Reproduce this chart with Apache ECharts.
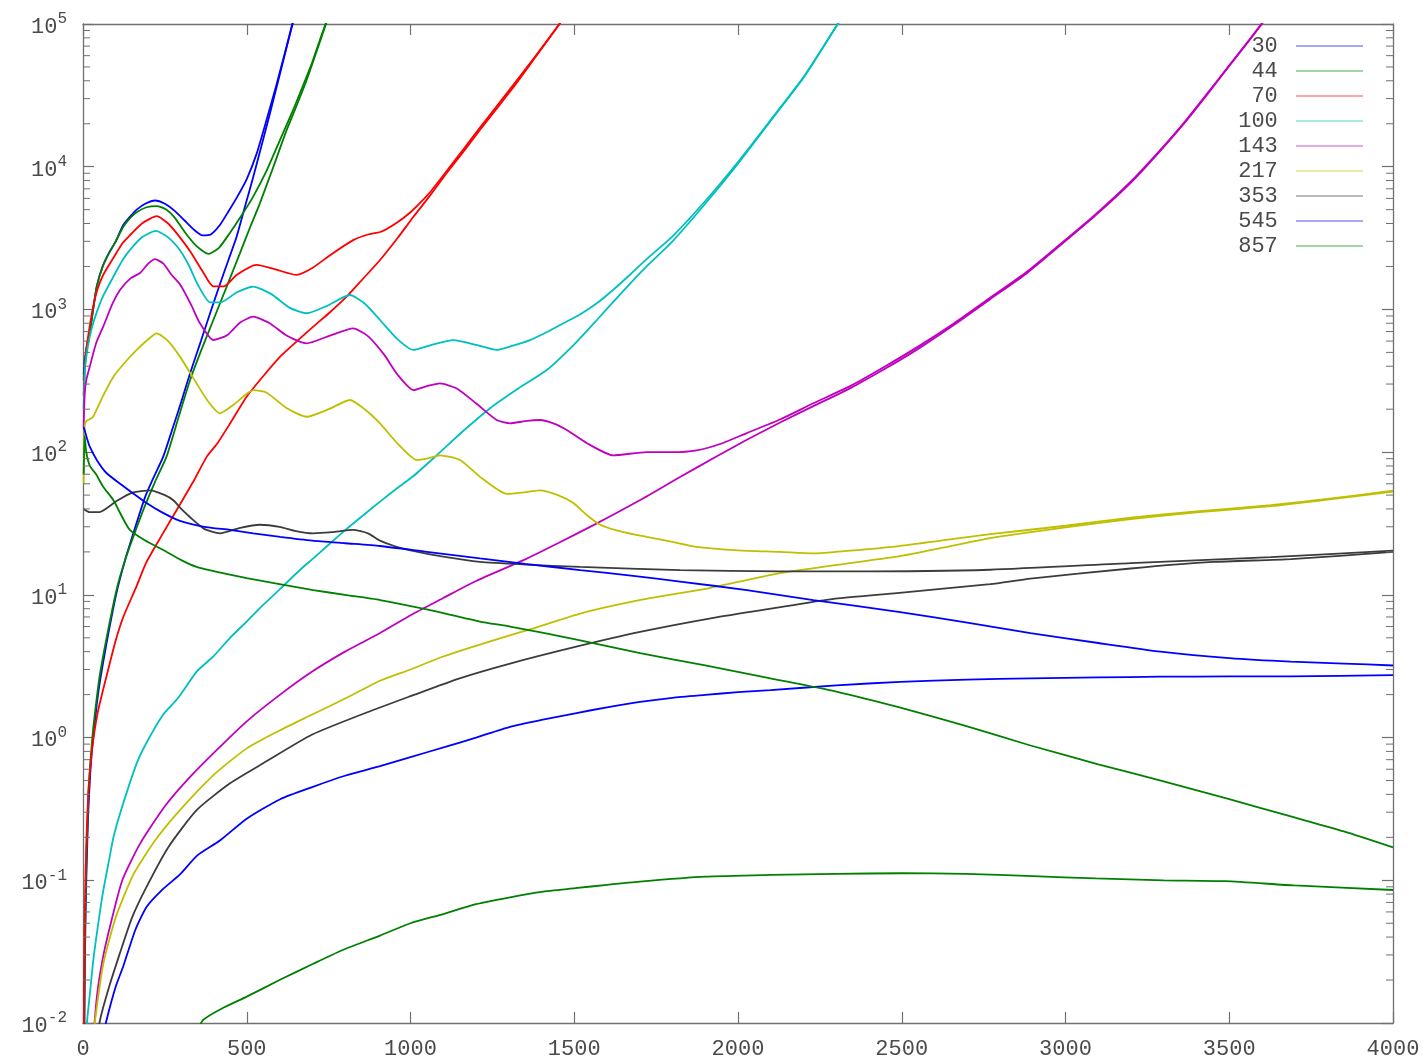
<!DOCTYPE html>
<html>
<head>
<meta charset="utf-8">
<script src="https://cdn.jsdelivr.net/npm/echarts@6/dist/echarts.min.js"></script>
<style>
  html, body { margin: 0; padding: 0; background: #fff; }
  #chart { width: 1426px; height: 1062px; }
</style>
</head>
<body>
<div id="chart"></div>
<script>
// Power spectra per frequency channel: multipole ell vs D_ell (log scale).
// Each channel has two curves: sky + noise (with acoustic peaks) and the noise-like one.

const channels = ['30', '44', '70', '100', '143', '217', '353', '545', '857'];
const channelColors = ['#0000ff', '#008000', '#ff0000', '#00bfbf', '#bf00bf', '#bfbf00', '#3c3c3c', '#0000ff', '#008000'];

const xTicks = [0, 500, 1000, 1500, 2000, 2500, 3000, 3500, 4000];
const yRange = [1e-2, 1e5];

const total30 = [[2,350],[6,450],[12,560],[21,700],[31,1000],[42,1450],[60,2000],[80,2500],[100,3000],[123,3900],[145,4500],[164,5000],[190,5500],[220,5800],[250,5500],[280,4900],[310,4200],[340,3600],[365,3300],[390,3350],[418,3900],[445,4900],[470,6100],[500,8200],[530,12300],[561,21500],[590,37000],[615,61000],[635,92000],[648,120000]];
const noise30 = [[3,0.004],[6,0.03],[10,0.1],[16,0.3],[23,0.6],[31,1.0],[42,1.7],[52,2.5],[72,4.6],[103,10.5],[130,18],[160,30],[189,48],[215,66],[245,93],[275,150],[300,225],[327,357],[360,600],[398,1100],[430,1800],[469,3230],[495,5300],[520,8500],[545,14000],[571,23700],[597,40800],[622,69000],[648,118000]];

const total44 = [[2,320],[6,420],[12,560],[21,700],[31,1000],[42,1450],[60,2000],[80,2500],[100,3000],[123,3800],[145,4400],[164,4800],[194,5200],[225,5300],[255,5000],[280,4400],[310,3500],[345,2800],[383,2450],[415,2700],[449,3450],[480,4400],[520,6200],[560,9300],[602,15500],[640,24500],[663,33000],[700,54000],[724,78000],[748,112000]];
const noise44 = [[3,0.005],[6,0.04],[10,0.13],[16,0.38],[23,0.7],[31,1.15],[42,1.9],[52,2.8],[72,5],[103,11],[130,18],[160,28],[189,42],[220,62],[255,93],[290,170],[327,320],[360,510],[398,843],[440,1470],[479,2470],[510,3750],[540,5540],[580,9800],[622,18100],[650,26000],[683,40500],[715,66000],[748,110000]];

const total70 = [[2,250],[6,400],[12,560],[20,750],[31,1046],[45,1400],[62,1750],[93,2300],[120,2900],[143,3300],[180,4000],[225,4500],[260,4000],[296,3200],[330,2500],[365,1850],[398,1450],[430,1450],[470,1750],[530,2050],[590,1900],[652,1745],[700,1950],[760,2450],[825,3060],[870,3350],[910,3500],[958,4050],[1000,4800],[1030,5600],[1059,6600],[1110,9300],[1161,13200],[1212,18800],[1263,26500],[1320,39000],[1380,59000],[1455,100500],[1470,115000]];
const noise70 = [[2,0.006],[5,0.05],[10,0.18],[16,0.4],[23,0.65],[31,0.95],[45,1.5],[60,2.1],[72,2.7],[100,4.8],[123,7],[160,11],[194,17],[240,26],[296,43],[340,64],[378,93],[410,115],[450,160],[500,245],[550,340],[602,467],[650,590],[703,757],[755,960],[805,1228],[855,1640],[907,2220],[960,3150],[1009,4460],[1060,6300],[1110,9000],[1161,12700],[1212,18100],[1260,25000],[1310,35000],[1380,58000],[1455,100000],[1470,112000]];

const total100 = [[2,200],[6,380],[12,500],[21,650],[31,800],[45,1000],[62,1250],[93,1700],[120,2200],[143,2600],[180,3200],[222,3550],[260,3200],[296,2600],[325,2000],[350,1500],[388,1120],[420,1120],[470,1320],[520,1443],[575,1280],[630,1030],[683,940],[745,1060],[815,1262],[860,1100],[907,843],[960,620],[1009,520],[1060,560],[1131,610],[1200,565],[1263,520],[1310,555],[1365,610],[1420,700],[1467,800],[1520,930],[1569,1104],[1620,1380],[1670,1750],[1721,2250],[1800,3250],[1900,5750],[2000,10800],[2100,21300],[2200,42500],[2305,100500],[2320,112000]];
const noise100 = [[6,0.004],[12,0.01],[21,0.016],[31,0.027],[42,0.042],[60,0.08],[80,0.14],[93,0.2],[120,0.33],[164,0.66],[194,0.92],[245,1.45],[291,1.9],[347,2.9],[398,3.7],[449,5.0],[500,6.5],[550,8.5],[602,11],[663,15],[703,18],[755,23],[805,29],[855,36],[907,45],[960,56],[1009,68],[1080,95],[1160,140],[1243,203],[1330,280],[1416,376],[1500,570],[1569,843],[1650,1350],[1721,2000],[1800,3000],[1900,5500],[2000,10500],[2100,21000],[2200,42000],[2305,100000],[2320,112000]];

const total143 = [[2,150],[5,250],[10,320],[21,400],[40,580],[62,760],[90,1100],[113,1370],[145,1650],[174,1800],[200,2100],[220,2250],[245,2100],[270,1750],[296,1500],[330,1080],[357,800],[398,610],[440,660],[480,810],[520,889],[570,800],[620,660],[683,578],[750,650],[825,736],[870,650],[920,480],[960,350],[1009,272],[1050,290],[1090,303],[1140,280],[1200,220],[1263,168],[1304,159],[1350,165],[1395,168],[1440,158],[1477,143],[1540,115],[1619,95],[1721,100],[1800,100],[1874,103],[1950,115],[2027,136],[2130,170],[2230,220],[2342,290],[2450,400],[2556,560],[2660,800],[2770,1206],[2880,1820],[2985,2880],[3090,4600],[3199,7850],[3280,12400],[3359,20000],[3430,32000],[3499,51000],[3560,77000],[3605,105000]];
const noise143 = [[25,0.005],[42,0.015],[60,0.028],[82,0.047],[120,0.1],[174,0.18],[250,0.33],[327,0.53],[418,0.86],[500,1.3],[602,2.0],[700,2.9],[800,4.0],[907,5.4],[1000,7.2],[1100,9.5],[1200,12.5],[1345,17.5],[1450,23],[1569,31.7],[1700,46],[1823,67],[1930,92],[2027,122],[2130,162],[2230,210],[2342,280],[2450,385],[2556,540],[2660,780],[2770,1180],[2880,1780],[2985,2820],[3090,4520],[3199,7700],[3280,12200],[3359,19700],[3430,31500],[3499,50500],[3560,76000],[3605,104000]];

const total217 = [[2,60],[5,150],[10,165],[20,170],[31,177],[62,250],[93,338],[130,430],[164,520],[200,620],[225,680],[260,600],[296,467],[337,330],[380,230],[418,187],[460,215],[520,272],[560,262],[620,205],[683,177],[750,200],[815,232],[860,200],[907,159],[960,115],[1019,88],[1050,90],[1090,95],[1151,88],[1220,65],[1294,51],[1340,52],[1395,54],[1450,50],[1497,44],[1540,36],[1579,31],[1650,27.5],[1721,25.5],[1800,23.5],[1874,21.7],[2000,20.5],[2128,20],[2230,19.5],[2342,20.4],[2485,21.9],[2630,24.2],[2770,26.6],[3000,30.5],[3199,34.8],[3400,38.5],[3627,42.5],[3800,47],[4000,53.7]];
const noise217 = [[30,0.007],[37,0.0105],[62,0.026],[100,0.055],[154,0.11],[220,0.19],[296,0.31],[400,0.55],[500,0.84],[600,1.12],[700,1.45],[805,1.9],[907,2.5],[1000,3.0],[1100,3.7],[1253,4.8],[1383,5.9],[1518,7.4],[1680,9.0],[1823,10.3],[1900,11.0],[2128,14.2],[2342,16.7],[2485,18.5],[2630,21.5],[2770,25],[3000,29.7],[3199,34],[3400,37.8],[3627,41.8],[3800,46.5],[4000,53]];

const total353 = [[2,40],[20,38],[50,38],[100,45],[150,52],[205,54],[250,50],[276,46],[300,40],[327,35],[370,29],[418,27],[480,29.5],[540,31],[600,30],[650,28],[703,27],[760,27.5],[825,28.5],[870,27],[907,24],[950,22],[1000,20.5],[1100,18.5],[1212,17],[1350,16.3],[1518,15.7],[1823,14.9],[2128,14.6],[2342,14.6],[2770,15.0],[3199,16.7],[3627,18.4],[4000,20.4]];
const noise353 = [[40,0.007],[52,0.0105],[80,0.018],[113,0.031],[150,0.055],[194,0.09],[260,0.17],[347,0.31],[450,0.48],[550,0.66],[700,1.05],[886,1.56],[1000,1.95],[1150,2.6],[1304,3.3],[1500,4.3],[1701,5.5],[1925,6.9],[2100,8.0],[2297,9.4],[2485,10.3],[2770,11.9],[2893,13.0],[3199,15.3],[3450,17.0],[3688,17.8],[4000,20.0]];

const desc545 = [[2,150],[6,140],[12,125],[20,110],[42,88],[70,72],[113,60],[150,52],[194,44],[240,38],[296,33],[370,30],[449,28.5],[520,27],[602,25.5],[700,24],[800,23],[907,22],[1050,20],[1212,18],[1350,16.5],[1518,14.9],[1680,13.6],[1823,12.4],[2027,10.8],[2230,9.2],[2490,7.6],[2700,6.4],[2893,5.4],[3100,4.6],[3290,4.0],[3500,3.6],[3688,3.4],[3850,3.3],[4000,3.2]];
const rise545 = [[55,0.007],[72,0.0105],[100,0.018],[123,0.025],[160,0.045],[194,0.065],[240,0.085],[296,0.11],[350,0.15],[418,0.19],[500,0.27],[602,0.37],[700,0.45],[800,0.54],[907,0.63],[1000,0.73],[1106,0.86],[1200,1.0],[1304,1.19],[1400,1.33],[1503,1.48],[1600,1.63],[1701,1.78],[1800,1.9],[1900,1.99],[2000,2.08],[2099,2.15],[2300,2.32],[2496,2.46],[2700,2.55],[2893,2.6],[3100,2.64],[3291,2.67],[3500,2.68],[3688,2.68],[4000,2.74]];

const desc857 = [[2,70],[5,130],[10,100],[21,80],[40,70],[60,58],[93,46],[120,35],[143,28.5],[190,24],[245,20.6],[300,17.5],[347,15.7],[420,14.3],[500,13.1],[600,11.9],[703,10.8],[800,10],[907,9.2],[1050,7.9],[1212,6.5],[1304,6.0],[1500,4.9],[1701,3.9],[1900,3.2],[2099,2.6],[2300,2.1],[2496,1.62],[2700,1.2],[2893,0.88],[3100,0.65],[3291,0.5],[3500,0.37],[3688,0.28],[3850,0.22],[4000,0.17]];
const rise857 = [[340,0.008],[367,0.0105],[420,0.0125],[500,0.0153],[600,0.02],[703,0.026],[800,0.033],[907,0.041],[1000,0.05],[1100,0.058],[1200,0.068],[1304,0.076],[1400,0.083],[1503,0.088],[1600,0.093],[1700,0.098],[1900,0.106],[2100,0.109],[2297,0.111],[2500,0.112],[2694,0.111],[2900,0.107],[3092,0.103],[3300,0.1],[3489,0.0985],[3700,0.092],[4000,0.0855]];

const curvesByChannel = [
  [total30, noise30], [total44, noise44], [total70, noise70],
  [total100, noise100], [total143, noise143], [total217, noise217],
  [total353, noise353], [desc545, rise545], [desc857, rise857]
];

// minor tick values of the log axis: 2..9 within every decade
const minorTickValues = [];
for (let e = -2; e < 5; e++) {
  for (let m = 2; m <= 9; m++) minorTickValues.push(m * Math.pow(10, e));
}

const FONT = 'Liberation Mono';
const TXT = '#4a4a4a';
const AXIS = '#707070';

const series = [];
curvesByChannel.forEach((pair, i) => {
  pair.forEach((pts) => {
    series.push({
      type: 'line',
      name: channels[i],
      data: pts,
      xAxisIndex: 0,
      yAxisIndex: 0,
      showSymbol: false,
      symbol: 'none',
      smooth: 0.2,
      lineStyle: { width: 1.8, color: channelColors[i] },
      itemStyle: { color: channelColors[i] },
      emphasis: { disabled: true },
      silent: true
    });
  });
});

// minor ticks on both vertical edges of the plot frame
series.push({
  type: 'custom',
  name: 'minor-ticks',
  xAxisIndex: 0,
  yAxisIndex: 0,
  silent: true,
  clip: false,
  z: 20,
  data: minorTickValues.map(v => [xTicks[1], v]),
  renderItem: (params, api) => {
    const cs = params.coordSys;
    const y = api.coord([xTicks[1], api.value(1)])[1];
    const xl = cs.x;
    const xr = cs.x + cs.width;
    return {
      type: 'group',
      children: [
        { type: 'line', z2: 50, shape: { x1: xl, y1: y, x2: xl + 7, y2: y }, style: { stroke: AXIS, lineWidth: 1 } },
        { type: 'line', z2: 50, shape: { x1: xr, y1: y, x2: xr - 7, y2: y }, style: { stroke: AXIS, lineWidth: 1 } }
      ]
    };
  }
});

const axisLineStyle = { show: true, onZero: false, lineStyle: { color: AXIS, width: 1.3 } };
const tickStyle = { show: true, inside: true, length: 11, lineStyle: { color: AXIS, width: 1.2 } };

const option = {
  animation: false,
  backgroundColor: '#ffffff',
  grid: { left: 83, right: 33, top: 24, bottom: 39, containLabel: false },
  legend: {
    data: channels,
    orient: 'vertical',
    align: 'right',
    right: 63,
    top: 35,
    padding: 0,
    itemWidth: 67,
    itemHeight: 2,
    itemGap: 3,
    icon: 'rect',
    selectedMode: false,
    formatter: name => name + ' ',
    itemStyle: { opacity: 0.35 },
    textStyle: { fontFamily: FONT, fontSize: 22, color: TXT, lineHeight: 20 }
  },
  xAxis: [
    {
      type: 'value', position: 'bottom',
      min: xTicks[0], max: xTicks[xTicks.length - 1], interval: 500,
      axisLine: axisLineStyle, axisTick: tickStyle,
      axisLabel: { fontFamily: FONT, fontSize: 22, color: TXT, margin: 15, formatter: v => String(v) },
      splitLine: { show: false }
    },
    {
      type: 'value', position: 'top',
      min: xTicks[0], max: xTicks[xTicks.length - 1], interval: 500,
      axisLine: axisLineStyle, axisTick: tickStyle,
      axisLabel: { show: false }, splitLine: { show: false }
    }
  ],
  yAxis: [
    {
      type: 'log', logBase: 10, position: 'left',
      min: yRange[0], max: yRange[1], splitNumber: 7,
      axisLine: axisLineStyle, axisTick: tickStyle,
      axisLabel: {
        margin: 16,
        formatter: v => '{b|10}{e|' + Math.round(Math.log10(v)) + '}',
        rich: {
          b: { fontFamily: FONT, fontSize: 22, color: TXT, padding: [6, 0, 0, 0] },
          e: { fontFamily: FONT, fontSize: 16, color: TXT, padding: [0, 0, 10, 0] }
        }
      },
      splitLine: { show: false }, minorTick: { show: false }
    },
    {
      type: 'log', logBase: 10, position: 'right',
      min: yRange[0], max: yRange[1], splitNumber: 7,
      axisLine: axisLineStyle, axisTick: tickStyle,
      axisLabel: { show: false }, splitLine: { show: false }, minorTick: { show: false }
    }
  ],
  series: series
};

const chart = echarts.init(document.getElementById('chart'), null, { renderer: 'canvas' });
chart.setOption(option);
</script>
</body>
</html>
